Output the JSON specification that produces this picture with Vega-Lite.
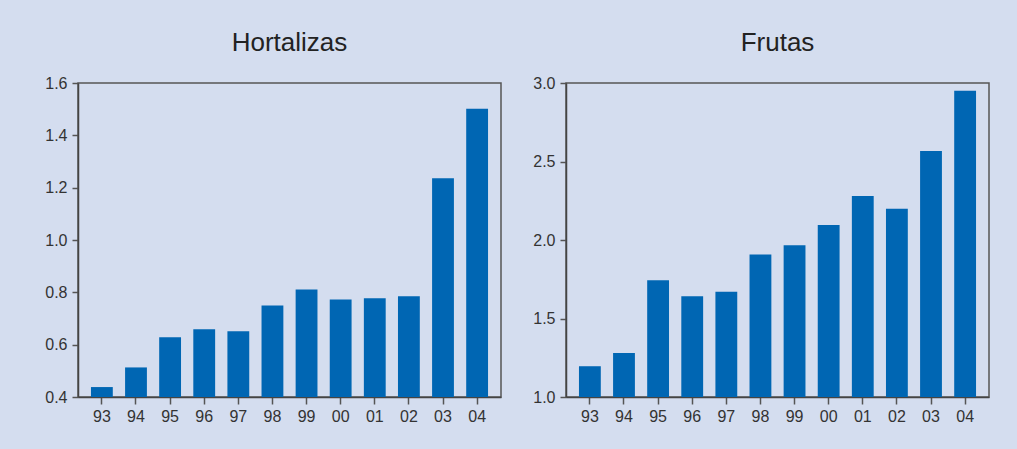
{
  "$schema": "https://vega.github.io/schema/vega-lite/v6.json",
  "background": "#d4ddef",
  "padding": {"left": 44, "top": 29, "right": 35, "bottom": 32},
  "datasets": {
    "hort": [
      {"year": "93", "value": 0.438},
      {"year": "94", "value": 0.513},
      {"year": "95", "value": 0.628},
      {"year": "96", "value": 0.659},
      {"year": "97", "value": 0.651},
      {"year": "98", "value": 0.750},
      {"year": "99", "value": 0.811},
      {"year": "00", "value": 0.773},
      {"year": "01", "value": 0.777},
      {"year": "02", "value": 0.785},
      {"year": "03", "value": 1.236},
      {"year": "04", "value": 1.502}
    ],
    "frut": [
      {"year": "93", "value": 1.196},
      {"year": "94", "value": 1.281},
      {"year": "95", "value": 1.744},
      {"year": "96", "value": 1.642},
      {"year": "97", "value": 1.670},
      {"year": "98", "value": 1.908},
      {"year": "99", "value": 1.967},
      {"year": "00", "value": 2.095},
      {"year": "01", "value": 2.280},
      {"year": "02", "value": 2.199},
      {"year": "03", "value": 2.567},
      {"year": "04", "value": 2.950}
    ]
  },
  "spacing": 30,
  "hconcat": [
    {
      "title": "Hortalizas",
      "width": 423,
      "height": 314,
      "data": {"name": "hort"},
      "mark": {"type": "bar", "color": "#0066b3"},
      "encoding": {
        "x": {"field": "year", "type": "ordinal", "sort": null,
              "scale": {"paddingInner": 0.36, "paddingOuter": 0.38},
              "axis": {"title": null, "labelAngle": 0}},
        "y": {"field": "value", "type": "quantitative",
              "scale": {"domain": [0.4, 1.6], "zero": false},
              "axis": {"title": null, "values": [0.4, 0.6, 0.8, 1.0, 1.2, 1.4, 1.6], "format": ".1f"}},
        "y2": {"datum": 0.4}
      }
    },
    {
      "title": "Frutas",
      "width": 423,
      "height": 314,
      "data": {"name": "frut"},
      "mark": {"type": "bar", "color": "#0066b3"},
      "encoding": {
        "x": {"field": "year", "type": "ordinal", "sort": null,
              "scale": {"paddingInner": 0.36, "paddingOuter": 0.38},
              "axis": {"title": null, "labelAngle": 0}},
        "y": {"field": "value", "type": "quantitative",
              "scale": {"domain": [1.0, 3.0], "zero": false},
              "axis": {"title": null, "values": [1.0, 1.5, 2.0, 2.5, 3.0], "format": ".1f"}},
        "y2": {"datum": 1.0}
      }
    }
  ],
  "config": {
    "font": "Liberation Sans",
    "view": {"stroke": "#555555", "strokeWidth": 1.5},
    "title": {"fontSize": 26, "fontWeight": "normal", "color": "#222222", "offset": 19, "anchor": "middle"},
    "axis": {
      "grid": false,
      "labelFont": "Liberation Sans",
      "labelFontSize": 16,
      "labelColor": "#333333",
      "domainColor": "#444444",
      "domainWidth": 1.5,
      "tickColor": "#555555",
      "tickWidth": 1.5
    },
    "axisY": {"tickSize": 6, "labelPadding": 5},
    "axisX": {"tickSize": 7, "labelPadding": 4}
  }
}
